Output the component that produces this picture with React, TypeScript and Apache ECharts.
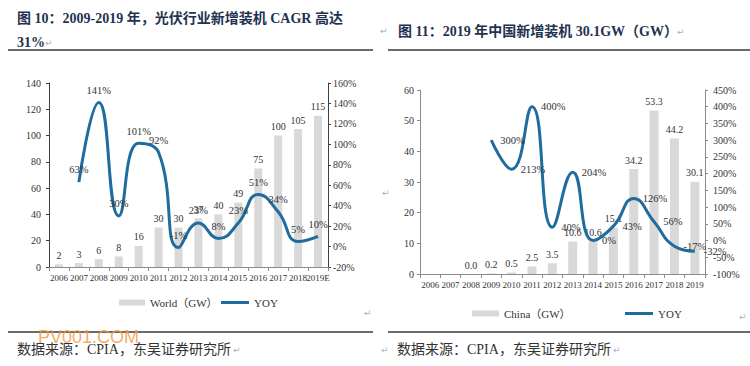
import React, { useEffect, useRef } from "react";
import * as echarts from "echarts";

const years1 = ["2006", "2007", "2008", "2009", "2010", "2011", "2012", "2013", "2014", "2015", "2016", "2017", "2018", "2019E"];
const worldGW = [2, 3, 6, 8, 16, 30, 30, 37, 40, 49, 75, 100, 105, 115];
const worldYoy = [null, 63, 141, 30, 101, 92, -1, 23, 8, 23, 51, 34, 5, 10];

const years2 = ["2006", "2007", "2008", "2009", "2010", "2011", "2012", "2013", "2014", "2015", "2016", "2017", "2018", "2019"];
const chinaGW = [null, null, 0.0, 0.2, 0.5, 2.5, 3.5, 10.6, 10.6, 15.1, 34.2, 53.3, 44.2, 30.1];
const chinaYoy = [null, null, null, 300, 213, 400, 40, 204, 0, 43, 126, 56, -17, -32];

const leftGWAxis = { min: 0, max: 140, interval: 20 };
const leftYoyAxis = { min: -20, max: 160, interval: 20 };
const rightGWAxis = { min: 0, max: 60, interval: 10 };
const rightYoyAxis = { min: -100, max: 450, interval: 50 };

const title1a = "图 10：2009-2019 年，光伏行业新增装机 CAGR 高达";
const title1b = "31%";
const title2 = "图 11：2019 年中国新增装机 30.1GW（GW）";
const sourceText = "数据来源：CPIA，东吴证券研究所";

const serif = "'Liberation Serif', 'Times New Roman', 'Noto Sans CJK SC', serif";
const cjk = "'Liberation Serif', 'Noto Sans CJK SC', sans-serif";
const BAR = "#d9d9d9";
const LINE = "#1f6c9e";
const TXT = "#333333";
const MARK = "#b0b0b0";

export default function App() {
  const ref = useRef<HTMLDivElement>(null);
  useEffect(() => {
    if (!ref.current) return;
    const chart = echarts.init(ref.current, undefined, { renderer: "svg" });

    const xAxisBase = (gridIndex: number, data: string[], lineColor: string) => ({
      type: "category",
      gridIndex,
      data,
      axisLine: { show: true, lineStyle: { color: lineColor, width: 1 } },
      axisTick: { show: true, length: 4, lineStyle: { color: lineColor } },
      axisLabel: { interval: 0, fontSize: 9, fontFamily: serif, color: TXT, margin: 6 },
      splitLine: { show: false },
    });
    const yAxisBase = (gridIndex: number, position: string, cfg: any, lineColor: string, suffix: string, margin: number) => ({
      type: "value",
      gridIndex,
      position,
      min: cfg.min,
      max: cfg.max,
      interval: cfg.interval,
      axisLine: { show: true, lineStyle: { color: lineColor, width: 1 } },
      axisTick: { show: true, length: 3, lineStyle: { color: lineColor } },
      axisLabel: { fontSize: 10, fontFamily: serif, color: TXT, margin, formatter: "{value}" + suffix },
      splitLine: { show: false },
    });

    const legendText = { fontSize: 11, fontFamily: cjk, color: TXT };

    const gtext = (text: string, x: number, y: number, font: string, fill: string) => ({
      type: "text",
      x,
      y,
      z: 100,
      style: { text, font, fill, align: "left", verticalAlign: "middle" },
    });
    const gline = (x1: number, y1: number, x2: number, y2: number) => ({
      type: "line",
      z: 100,
      shape: { x1, y1, x2, y2 },
      style: { stroke: "#3a3a3a", lineWidth: 1.5 },
    });

    const titleFont = "bold 14px 'Liberation Serif', 'Noto Sans CJK SC', serif";
    const srcFont = "14px 'Liberation Serif', 'Noto Sans CJK SC', serif";
    const markFont = "9px 'DejaVu Sans', sans-serif";

    chart.setOption({
      animation: false,
      backgroundColor: "#ffffff",
      grid: [
        { left: 49, top: 83, width: 279, height: 184, containLabel: false },
        { left: 420, top: 90, width: 285, height: 184, containLabel: false },
      ],
      xAxis: [xAxisBase(0, years1, "#8c8c8c"), xAxisBase(1, years2, "#8c8c8c")],
      yAxis: [
        yAxisBase(0, "left", leftGWAxis, "#404040", "", 8),
        yAxisBase(0, "right", leftYoyAxis, "#404040", "%", 5),
        yAxisBase(1, "left", rightGWAxis, "#8c8c8c", "", 6),
        yAxisBase(1, "right", rightYoyAxis, "#8c8c8c", "%", 8),
      ],
      legend: [
        { data: [{ name: "World（GW）", icon: "rect" }], left: 114, top: 292, itemWidth: 26, itemHeight: 6, textStyle: legendText, selectedMode: false },
        { data: [{ name: "YOY", icon: "rect" }], left: 216, top: 292, itemWidth: 28, itemHeight: 3, textStyle: legendText, selectedMode: false },
        { data: [{ name: "China（GW）", icon: "rect" }], left: 467, top: 303, itemWidth: 27, itemHeight: 6, textStyle: legendText, selectedMode: false },
        { data: [{ name: "YOY", icon: "rect" }], left: 620, top: 303, itemWidth: 28, itemHeight: 3, textStyle: legendText, selectedMode: false },
      ],
      series: [
        {
          name: "World（GW）",
          type: "bar",
          xAxisIndex: 0,
          yAxisIndex: 0,
          data: worldGW,
          barWidth: 8,
          itemStyle: { color: BAR },
          label: { show: true, position: "top", distance: 4, fontSize: 10, fontFamily: serif, color: TXT },
          z: 2,
        },
        {
          name: "YOY",
          type: "line",
          xAxisIndex: 0,
          yAxisIndex: 1,
          data: worldYoy,
          smooth: 0.5,
          symbol: "circle",
          symbolSize: 0.1,
          showSymbol: true,
          itemStyle: { color: LINE },
          lineStyle: { color: LINE, width: 3 },
          label: { show: true, position: "top", distance: 7, fontSize: 10.5, fontFamily: serif, color: TXT, formatter: "{c}%" },
          z: 3,
        },
        {
          name: "China（GW）",
          type: "bar",
          xAxisIndex: 1,
          yAxisIndex: 2,
          data: chinaGW,
          barWidth: 9,
          itemStyle: { color: BAR },
          label: {
            show: true,
            position: "top",
            distance: 4,
            fontSize: 10,
            fontFamily: serif,
            color: TXT,
            formatter: (p: any) => (p.value == null ? "" : Number(p.value).toFixed(1)),
          },
          z: 2,
        },
        {
          name: "YOY",
          type: "line",
          xAxisIndex: 1,
          yAxisIndex: 3,
          data: chinaYoy,
          smooth: 0.5,
          symbol: "circle",
          symbolSize: 0.1,
          showSymbol: true,
          itemStyle: { color: LINE },
          lineStyle: { color: LINE, width: 3 },
          label: { show: true, position: "right", distance: 9, fontSize: 10.5, fontFamily: serif, color: TXT, formatter: "{c}%" },
          z: 3,
        },
      ],
      graphic: [
        gtext(title1a, 17, 18, titleFont, "#1f3350"),
        gtext(title1b, 17, 42, titleFont, "#1f3350"),
        gtext("↵", 45, 43, markFont, MARK),
        gline(8, 50, 373, 50),
        gtext("↵", 380, 31, markFont, MARK),
        gtext(title2, 398, 31, titleFont, "#1f3350"),
        gtext("↵", 677, 32, markFont, MARK),
        gline(388, 50, 750, 50),
        gtext("↵", 382, 193, markFont, MARK),
        gtext("↵", 364, 313, markFont, MARK),
        gtext("↵", 739, 317, markFont, MARK),
        gline(8, 332, 373, 332),
        gline(388, 332, 750, 332),
        gtext(sourceText, 17, 349, srcFont, TXT),
        gtext("↵", 233, 350, markFont, MARK),
        gtext("↵", 381, 350, markFont, MARK),
        gtext(sourceText, 397, 349, srcFont, TXT),
        gtext("↵", 613, 350, markFont, MARK),
        {
          type: "text",
          x: 38,
          y: 337,
          z: 101,
          style: {
            text: "PV001.COM",
            font: "18px 'Liberation Sans', Arial, sans-serif",
            fill: "rgba(242, 150, 60, 0.8)",
            align: "left",
            verticalAlign: "middle",
          },
        },
      ],
    });
    return () => chart.dispose();
  }, []);
  return (
    <div
      ref={ref}
      style={{ position: "fixed", left: 0, top: 0, width: 750, height: 366, background: "#fff" }}
    />
  );
}
